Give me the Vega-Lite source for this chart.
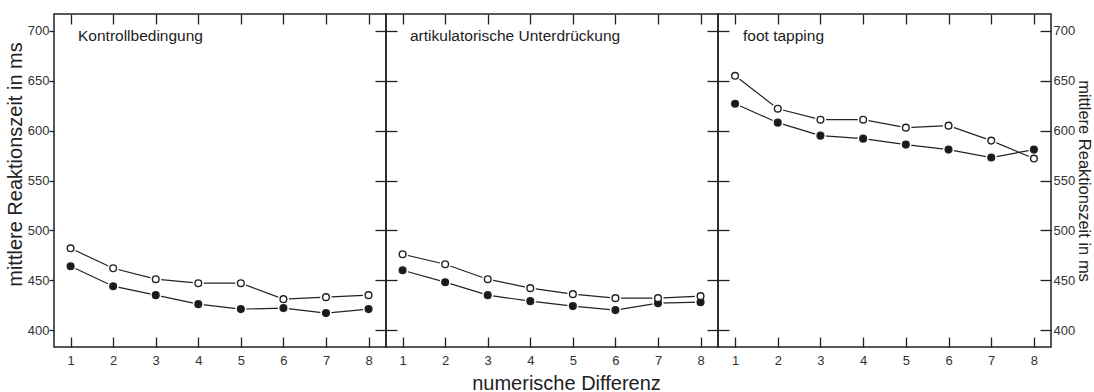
{
  "$schema": "https://vega.github.io/schema/vega-lite/v6.json",
  "background": "white",
  "padding": {"left": 4, "top": 12, "right": 0, "bottom": 0},
  "spacing": 0,
  "bounds": "flush",
  "datasets": {
    "rt": [
      {"bedingung": "Kontrollbedingung", "serie": "A", "differenz": 1, "rt": 464},
      {"bedingung": "Kontrollbedingung", "serie": "A", "differenz": 2, "rt": 444},
      {"bedingung": "Kontrollbedingung", "serie": "A", "differenz": 3, "rt": 435},
      {"bedingung": "Kontrollbedingung", "serie": "A", "differenz": 4, "rt": 426},
      {"bedingung": "Kontrollbedingung", "serie": "A", "differenz": 5, "rt": 421},
      {"bedingung": "Kontrollbedingung", "serie": "A", "differenz": 6, "rt": 422},
      {"bedingung": "Kontrollbedingung", "serie": "A", "differenz": 7, "rt": 417},
      {"bedingung": "Kontrollbedingung", "serie": "A", "differenz": 8, "rt": 421},
      {"bedingung": "Kontrollbedingung", "serie": "B", "differenz": 1, "rt": 482},
      {"bedingung": "Kontrollbedingung", "serie": "B", "differenz": 2, "rt": 462},
      {"bedingung": "Kontrollbedingung", "serie": "B", "differenz": 3, "rt": 451},
      {"bedingung": "Kontrollbedingung", "serie": "B", "differenz": 4, "rt": 447},
      {"bedingung": "Kontrollbedingung", "serie": "B", "differenz": 5, "rt": 447},
      {"bedingung": "Kontrollbedingung", "serie": "B", "differenz": 6, "rt": 431},
      {"bedingung": "Kontrollbedingung", "serie": "B", "differenz": 7, "rt": 433},
      {"bedingung": "Kontrollbedingung", "serie": "B", "differenz": 8, "rt": 435},
      {"bedingung": "artikulatorische Unterdrückung", "serie": "A", "differenz": 1, "rt": 460},
      {"bedingung": "artikulatorische Unterdrückung", "serie": "A", "differenz": 2, "rt": 448},
      {"bedingung": "artikulatorische Unterdrückung", "serie": "A", "differenz": 3, "rt": 435},
      {"bedingung": "artikulatorische Unterdrückung", "serie": "A", "differenz": 4, "rt": 429},
      {"bedingung": "artikulatorische Unterdrückung", "serie": "A", "differenz": 5, "rt": 424},
      {"bedingung": "artikulatorische Unterdrückung", "serie": "A", "differenz": 6, "rt": 420},
      {"bedingung": "artikulatorische Unterdrückung", "serie": "A", "differenz": 7, "rt": 427},
      {"bedingung": "artikulatorische Unterdrückung", "serie": "A", "differenz": 8, "rt": 428},
      {"bedingung": "artikulatorische Unterdrückung", "serie": "B", "differenz": 1, "rt": 476},
      {"bedingung": "artikulatorische Unterdrückung", "serie": "B", "differenz": 2, "rt": 466},
      {"bedingung": "artikulatorische Unterdrückung", "serie": "B", "differenz": 3, "rt": 451},
      {"bedingung": "artikulatorische Unterdrückung", "serie": "B", "differenz": 4, "rt": 442},
      {"bedingung": "artikulatorische Unterdrückung", "serie": "B", "differenz": 5, "rt": 436},
      {"bedingung": "artikulatorische Unterdrückung", "serie": "B", "differenz": 6, "rt": 432},
      {"bedingung": "artikulatorische Unterdrückung", "serie": "B", "differenz": 7, "rt": 432},
      {"bedingung": "artikulatorische Unterdrückung", "serie": "B", "differenz": 8, "rt": 434},
      {"bedingung": "foot tapping", "serie": "A", "differenz": 1, "rt": 627},
      {"bedingung": "foot tapping", "serie": "A", "differenz": 2, "rt": 608},
      {"bedingung": "foot tapping", "serie": "A", "differenz": 3, "rt": 595},
      {"bedingung": "foot tapping", "serie": "A", "differenz": 4, "rt": 592},
      {"bedingung": "foot tapping", "serie": "A", "differenz": 5, "rt": 586},
      {"bedingung": "foot tapping", "serie": "A", "differenz": 6, "rt": 581},
      {"bedingung": "foot tapping", "serie": "A", "differenz": 7, "rt": 573},
      {"bedingung": "foot tapping", "serie": "A", "differenz": 8, "rt": 581},
      {"bedingung": "foot tapping", "serie": "B", "differenz": 1, "rt": 655},
      {"bedingung": "foot tapping", "serie": "B", "differenz": 2, "rt": 622},
      {"bedingung": "foot tapping", "serie": "B", "differenz": 3, "rt": 611},
      {"bedingung": "foot tapping", "serie": "B", "differenz": 4, "rt": 611},
      {"bedingung": "foot tapping", "serie": "B", "differenz": 5, "rt": 603},
      {"bedingung": "foot tapping", "serie": "B", "differenz": 6, "rt": 605},
      {"bedingung": "foot tapping", "serie": "B", "differenz": 7, "rt": 590},
      {"bedingung": "foot tapping", "serie": "B", "differenz": 8, "rt": 572}
    ]
  },
  "hconcat": [
    {
      "width": 332,
      "height": 333,
      "data": {"name": "rt"},
      "transform": [{"filter": "datum.bedingung == 'Kontrollbedingung'"}],
      "title": {"text": "Kontrollbedingung", "anchor": "start", "frame": "group", "offset": -29, "dx": 24, "dy": 14, "baseline": "alphabetic"},
      "resolve": {"axis": {"x": "independent", "y": "independent"}},
      "layer": [
        {
          "mark": {"type": "line", "color": "#222", "strokeWidth": 1.2},
          "encoding": {
            "x": {"field": "differenz", "type": "quantitative", "scale": {"domain": [0.61, 8.41], "nice": false, "zero": false},
                  "axis": {"orient": "bottom", "values": [1, 2, 3, 4, 5, 6, 7, 8], "tickSize": -10, "labelPadding": 17, "title": null}},
            "y": {"field": "rt", "type": "quantitative", "scale": {"domain": [383, 717], "nice": false, "zero": false},
                  "axis": {"orient": "left", "values": [400, 450, 500, 550, 600, 650, 700], "tickSize": 5, "labelPadding": 0, "title": "mittlere Reaktionszeit in ms", "titlePadding": 2, "titleY": 150}},
            "detail": {"field": "serie"}
          }
        },
        {
          "mark": {"type": "point", "filled": true, "color": "white", "size": 125, "opacity": 1},
          "encoding": {
            "x": {"field": "differenz", "type": "quantitative",
                  "axis": {"orient": "top", "values": [1, 2, 3, 4, 5, 6, 7, 8], "tickSize": -10, "labels": false, "title": null}},
            "y": {"field": "rt", "type": "quantitative",
                  "axis": {"orient": "right", "values": [400, 450, 500, 550, 600, 650, 700], "tickSize": -11, "labels": false, "title": null}}
          }
        },
        {
          "mark": {"type": "point", "size": 45, "strokeWidth": 1.4, "opacity": 1, "stroke": "#222"},
          "encoding": {
            "x": {"field": "differenz", "type": "quantitative", "axis": null},
            "y": {"field": "rt", "type": "quantitative", "axis": null},
            "fill": {"field": "serie", "type": "nominal", "scale": {"domain": ["A", "B"], "range": ["#1a1a1a", "#ffffff"]}, "legend": null}
          }
        }
      ]
    },
    {
      "width": 332,
      "height": 333,
      "data": {"name": "rt"},
      "transform": [{"filter": "datum.bedingung == 'artikulatorische Unterdrückung'"}],
      "title": {"text": "artikulatorische Unterdrückung", "anchor": "start", "frame": "group", "offset": -29, "dx": 24, "dy": 14, "baseline": "alphabetic"},
      "resolve": {"axis": {"x": "independent", "y": "independent"}},
      "layer": [
        {
          "mark": {"type": "line", "color": "#222", "strokeWidth": 1.2},
          "encoding": {
            "x": {"field": "differenz", "type": "quantitative", "scale": {"domain": [0.61, 8.41], "nice": false, "zero": false},
                  "axis": {"orient": "bottom", "values": [1, 2, 3, 4, 5, 6, 7, 8], "tickSize": -10, "labelPadding": 17, "title": "numerische Differenz", "titlePadding": 6, "titleX": 180}},
            "y": {"field": "rt", "type": "quantitative", "scale": {"domain": [383, 717], "nice": false, "zero": false},
                  "axis": {"orient": "left", "values": [400, 450, 500, 550, 600, 650, 700], "tickSize": -11, "labels": false, "title": null}},
            "detail": {"field": "serie"}
          }
        },
        {
          "mark": {"type": "point", "filled": true, "color": "white", "size": 125, "opacity": 1},
          "encoding": {
            "x": {"field": "differenz", "type": "quantitative",
                  "axis": {"orient": "top", "values": [1, 2, 3, 4, 5, 6, 7, 8], "tickSize": -10, "labels": false, "title": null}},
            "y": {"field": "rt", "type": "quantitative",
                  "axis": {"orient": "right", "values": [400, 450, 500, 550, 600, 650, 700], "tickSize": -11, "labels": false, "title": null}}
          }
        },
        {
          "mark": {"type": "point", "size": 45, "strokeWidth": 1.4, "opacity": 1, "stroke": "#222"},
          "encoding": {
            "x": {"field": "differenz", "type": "quantitative", "axis": null},
            "y": {"field": "rt", "type": "quantitative", "axis": null},
            "fill": {"field": "serie", "type": "nominal", "scale": {"domain": ["A", "B"], "range": ["#1a1a1a", "#ffffff"]}, "legend": null}
          }
        }
      ]
    },
    {
      "width": 333,
      "height": 333,
      "data": {"name": "rt"},
      "transform": [{"filter": "datum.bedingung == 'foot tapping'"}],
      "title": {"text": "foot tapping", "anchor": "start", "frame": "group", "offset": -29, "dx": 25, "dy": 14, "baseline": "alphabetic"},
      "resolve": {"axis": {"x": "independent", "y": "independent"}},
      "layer": [
        {
          "mark": {"type": "line", "color": "#222", "strokeWidth": 1.2},
          "encoding": {
            "x": {"field": "differenz", "type": "quantitative", "scale": {"domain": [0.6, 8.4], "nice": false, "zero": false},
                  "axis": {"orient": "bottom", "values": [1, 2, 3, 4, 5, 6, 7, 8], "tickSize": -10, "labelPadding": 17, "title": null}},
            "y": {"field": "rt", "type": "quantitative", "scale": {"domain": [383, 717], "nice": false, "zero": false},
                  "axis": {"orient": "left", "values": [400, 450, 500, 550, 600, 650, 700], "tickSize": -11, "labels": false, "title": null}},
            "detail": {"field": "serie"}
          }
        },
        {
          "mark": {"type": "point", "filled": true, "color": "white", "size": 125, "opacity": 1},
          "encoding": {
            "x": {"field": "differenz", "type": "quantitative",
                  "axis": {"orient": "top", "values": [1, 2, 3, 4, 5, 6, 7, 8], "tickSize": -10, "labels": false, "title": null}},
            "y": {"field": "rt", "type": "quantitative",
                  "axis": {"orient": "right", "values": [400, 450, 500, 550, 600, 650, 700], "tickSize": -11, "labelPadding": 13, "title": "mittlere Reaktionszeit in ms", "titleAngle": 90, "titlePadding": 1, "titleFontSize": 16.5}}
          }
        },
        {
          "mark": {"type": "point", "size": 45, "strokeWidth": 1.4, "opacity": 1, "stroke": "#222"},
          "encoding": {
            "x": {"field": "differenz", "type": "quantitative", "axis": null},
            "y": {"field": "rt", "type": "quantitative", "axis": null},
            "fill": {"field": "serie", "type": "nominal", "scale": {"domain": ["A", "B"], "range": ["#1a1a1a", "#ffffff"]}, "legend": null}
          }
        }
      ]
    }
  ],
  "config": {
    "font": "Liberation Sans",
    "view": {"stroke": "#222", "strokeWidth": 1.5},
    "title": {"fontSize": 15.5, "fontWeight": "normal", "color": "#222", "font": "Liberation Sans"},
    "axis": {
      "domain": false,
      "grid": false,
      "tickColor": "#222",
      "tickWidth": 1.3,
      "labelColor": "#333",
      "labelFontSize": 13,
      "labelFont": "Liberation Sans",
      "titleFont": "Liberation Sans",
      "titleFontSize": 20,
      "titleFontWeight": "normal",
      "titleColor": "#222"
    }
  }
}
